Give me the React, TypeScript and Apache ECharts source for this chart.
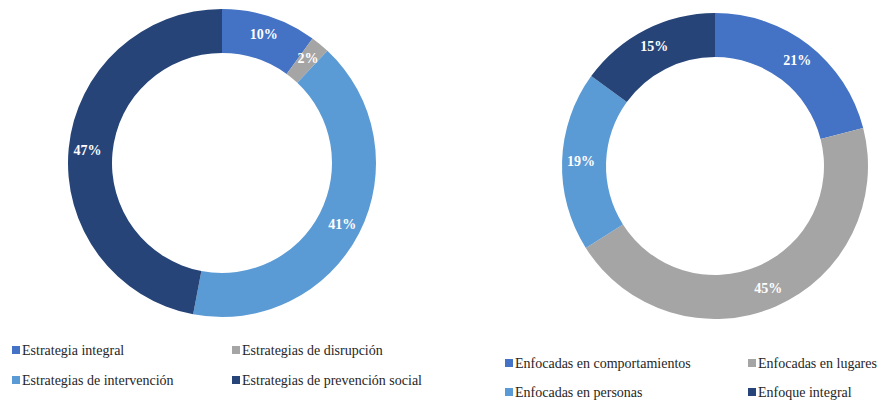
import React, { useEffect, useRef } from "react";
import * as echarts from "echarts";

const leftCategories = [
  "Estrategia integral",
  "Estrategias de disrupción",
  "Estrategias de intervención",
  "Estrategias de prevención social",
];
const leftValues = [10, 2, 41, 47];

const rightCategories = [
  "Enfocadas en comportamientos",
  "Enfocadas en lugares",
  "Enfocadas en personas",
  "Enfoque integral",
];
const rightValues = [21, 45, 19, 15];

const colors = ["#4472C4", "#A5A5A5", "#5B9BD5", "#264478"];

const FONT = "Liberation Serif";

export default function App() {
  const ref = useRef<HTMLDivElement>(null);
  useEffect(() => {
    if (!ref.current) return;
    const chart = echarts.init(ref.current, null, { renderer: "svg" });

    const legendPos = (names: string[], lefts: number[], tops: number[]) =>
      names.map((n, i) => ({
        data: [n],
        left: lefts[i % 2],
        top: tops[Math.floor(i / 2)],
        itemWidth: 8,
        itemHeight: 8,
        itemGap: 0,
        icon: "rect",
        padding: 0,
        textStyle: {
          fontFamily: FONT,
          fontSize: 14,
          color: "#262626",
          padding: [0, 0, 0, -3],
        },
      }));

    const label = {
      show: true,
      position: "inside",
      formatter: "{c}%",
      color: "#fff",
      fontFamily: FONT,
      fontSize: 14,
      fontWeight: "bold",
    };

    chart.setOption({
      animation: false,
      color: colors,
      legend: [
        ...legendPos(leftCategories, [12, 232], [343, 373]),
        ...legendPos(rightCategories, [505, 748], [356, 385]),
      ],
      series: [
        {
          type: "pie",
          center: [222, 163],
          radius: [110, 154],
          startAngle: 90,
          clockwise: true,
          label,
          labelLine: { show: false },
          itemStyle: { borderWidth: 0 },
          emphasis: { disabled: true },
          data: leftCategories.map((n, i) => ({ name: n, value: leftValues[i] })),
        },
        {
          type: "pie",
          center: [715, 166],
          radius: [109, 153],
          startAngle: 90,
          clockwise: true,
          label,
          labelLine: { show: false },
          itemStyle: { borderWidth: 0 },
          emphasis: { disabled: true },
          data: rightCategories.map((n, i) => ({ name: n, value: rightValues[i] })),
        },
      ],
    });
    return () => chart.dispose();
  }, []);
  return (
    <div
      ref={ref}
      style={{ position: "fixed", left: 0, top: 0, width: 877, height: 403, background: "#fff" }}
    />
  );
}
